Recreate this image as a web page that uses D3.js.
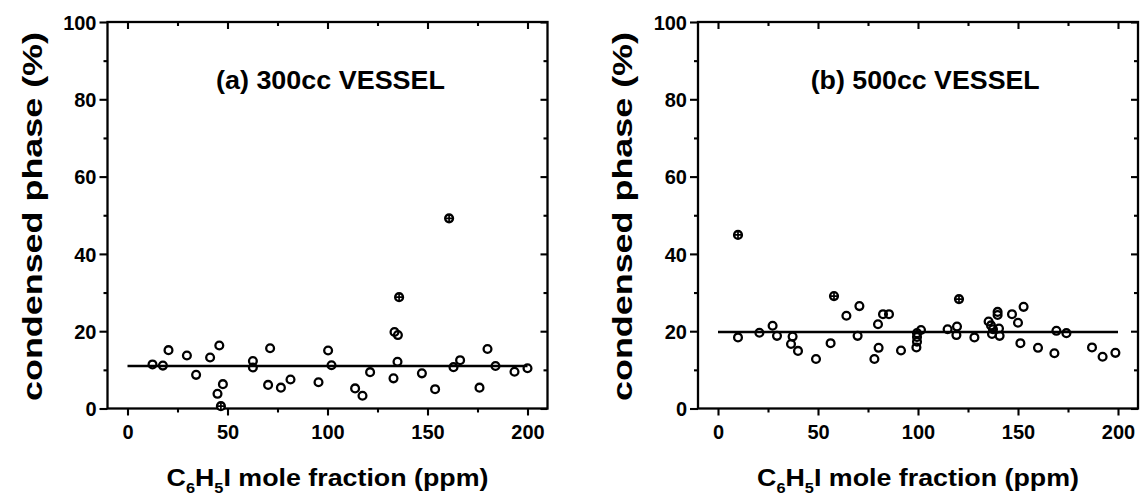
<!DOCTYPE html>
<html><head><meta charset="utf-8">
<script src="https://cdn.jsdelivr.net/npm/d3@7"></script>
<style>
body{margin:0;background:#fff}
svg{display:block}
text{font-family:"Liberation Sans",Arial,sans-serif;font-weight:bold;fill:#000}
</style>
</head><body><svg id="c" width="1140" height="497"></svg>
<script>
// ---- data ----
const xTicks=[0,50,100,150,200];
const xMinor=[25,75,125,175];
const yTicks=[0,20,40,60,80,100];
const yMinor=[10,30,50,70,90];
const titles=["(a) 300cc VESSEL","(b) 500cc VESSEL"];
const yLabel="condensed phase (%)";
const fitA=11.0, fitB=19.8;

const openAx=[12.5,17.7,20.5,29.7,34.3,41.3,45.9,45,47.7,62.7,62.7,71.3,70.3,76.7,81.5,95.5,100.3,102,113.8,117.5,121.3,133,135,133.5,135.2,147.2,153.8,163,166.3,176,180,184,193.5,200];
const openAy=[11.4,11.1,15.1,13.7,8.7,13.2,16.3,3.8,6.3,12.3,10.6,15.6,6.1,5.4,7.5,6.8,15.0,11.2,5.2,3.3,9.4,7.8,12.1,19.8,19.0,9.1,5.0,10.7,12.5,5.4,15.4,11.0,9.5,10.4];
const crossAx=[46.7,135.8,160.8];
const crossAy=[0.6,28.8,49.2];

const openBx=[10,20.7,27.3,29.5,37.3,36.5,40,49,56.3,64.2,70.7,69.8,78.2,80.3,80,82.5,85.5,91.5,99.2,99.5,99.5,99.5,101.5,114.8,119.5,119.2,128.2,135.3,136.5,137.5,137,139.8,139.8,140.5,140.8,147,150,152.8,151.2,160,168.2,169.2,174.2,187,192.3,198.7];
const openBy=[18.4,19.6,21.4,18.8,18.6,16.7,14.9,12.8,16.9,24.0,26.5,18.8,12.8,15.7,21.8,24.4,24.4,15.0,15.8,17.3,18.5,19.5,20.3,20.5,21.2,19.0,18.4,22.5,21.5,20.5,19.3,25.0,24.2,20.7,18.8,24.4,22.2,26.3,16.9,15.7,14.3,20.1,19.5,15.8,13.4,14.4];
const crossBx=[10,58,120.5];
const crossBy=[44.9,29.1,28.3];

// ---- drawing ----
const svg=d3.select("#c");
svg.append("rect").attr("width",1140).attr("height",497).attr("fill","#fff");

function panel(left, ox, oy, cx, cy, fit, title, titleX){
  const x=d3.scaleLinear().domain([-10,210]).range([left,left+440]);
  const y=d3.scaleLinear().domain([0,100]).range([408.5,22]);
  const g=svg.append("g");
  const sw=2.3;

  function styleAxis(sel){
    sel.select(".domain").remove();
    sel.selectAll(".tick line").attr("stroke","#000").attr("stroke-width",2.1);
    sel.selectAll(".tick text").attr("font-size",20).attr("font-family",'"Liberation Sans",Arial,sans-serif').attr("font-weight","bold").attr("fill","#000");
  }
  // bottom
  g.append("g").attr("transform",`translate(0,${y(0)})`)
    .call(d3.axisBottom(x).tickValues(xTicks).tickSize(7).tickPadding(9).tickFormat(d3.format("d"))).call(styleAxis);
  g.append("g").attr("transform",`translate(0,${y(0)})`)
    .call(d3.axisBottom(x).tickValues(xMinor).tickSize(4).tickFormat("")).call(styleAxis);
  // top
  g.append("g").attr("transform",`translate(0,${y(100)})`)
    .call(d3.axisTop(x).tickValues(xTicks).tickSize(-7).tickFormat("")).call(styleAxis);
  g.append("g").attr("transform",`translate(0,${y(100)})`)
    .call(d3.axisTop(x).tickValues(xMinor).tickSize(-4).tickFormat("")).call(styleAxis);
  // left
  const la=g.append("g").attr("transform",`translate(${x(-10)},0)`)
    .call(d3.axisLeft(y).tickValues(yTicks).tickSize(8).tickPadding(3).tickFormat(d3.format("d"))).call(styleAxis);
  la.selectAll(".tick text").attr("dy","0.36em");
  g.append("g").attr("transform",`translate(${x(-10)},0)`)
    .call(d3.axisLeft(y).tickValues(yMinor).tickSize(4).tickFormat("")).call(styleAxis);
  // right
  g.append("g").attr("transform",`translate(${x(210)},0)`)
    .call(d3.axisRight(y).tickValues(yTicks).tickSize(-7).tickFormat("")).call(styleAxis);
  g.append("g").attr("transform",`translate(${x(210)},0)`)
    .call(d3.axisRight(y).tickValues(yMinor).tickSize(-4).tickFormat("")).call(styleAxis);

  // frame
  g.append("rect").attr("x",x(-10)).attr("y",y(100)).attr("width",x(210)-x(-10)).attr("height",y(0)-y(100))
    .attr("fill","none").attr("stroke","#000").attr("stroke-width",sw);

  // fit line
  g.append("path").datum([0,200]).attr("d",d3.line().x(d=>x(d)).y(()=>y(fit)))
    .attr("stroke","#000").attr("stroke-width",2.4).attr("fill","none");

  // open circles
  g.append("g").selectAll("circle").data(d3.range(ox.length)).join("circle")
    .attr("cx",i=>x(ox[i])).attr("cy",i=>y(oy[i])).attr("r",3.9)
    .attr("fill","none").attr("stroke","#000").attr("stroke-width",2.3);
  // crossed circles
  const cg=g.append("g").selectAll("g").data(d3.range(cx.length)).join("g")
    .attr("transform",i=>`translate(${x(cx[i])},${y(cy[i])})`);
  cg.append("circle").attr("r",3.9).attr("fill","#fff").attr("stroke","#000").attr("stroke-width",2.4);
  cg.append("path").attr("d","M-3.6,0H3.6M0,-3.6V3.6").attr("stroke","#000").attr("stroke-width",1.7);

  // title
  g.append("text").attr("x",x(titleX)).attr("y",89.3).attr("font-size",25)
    .attr("textLength",229).attr("lengthAdjust","spacingAndGlyphs").text(title);

  // x label
  const xl=g.append("text").attr("x",x(100)).attr("y",486).attr("text-anchor","middle").attr("font-size",23)
    .attr("textLength",322).attr("lengthAdjust","spacingAndGlyphs");
  xl.append("tspan").text("C");
  xl.append("tspan").attr("font-size",14).attr("dy",7).text("6");
  xl.append("tspan").attr("dy",-7).text("H");
  xl.append("tspan").attr("font-size",14).attr("dy",7).text("5");
  xl.append("tspan").attr("dy",-7).text("I mole fraction (ppm)");

  // y label
  g.append("text").attr("transform",`translate(${x(-10)-66},216.5) rotate(-90)`)
    .attr("text-anchor","middle").attr("font-size",27)
    .attr("textLength",369).attr("lengthAdjust","spacingAndGlyphs").text(yLabel);
}

panel(107.5, openAx, openAy, crossAx, crossAy, fitA, titles[0], 44.25);
panel(698.0, openBx, openBy, crossBx, crossBy, fitB, titles[1], 46.35);
</script>
</body></html>
